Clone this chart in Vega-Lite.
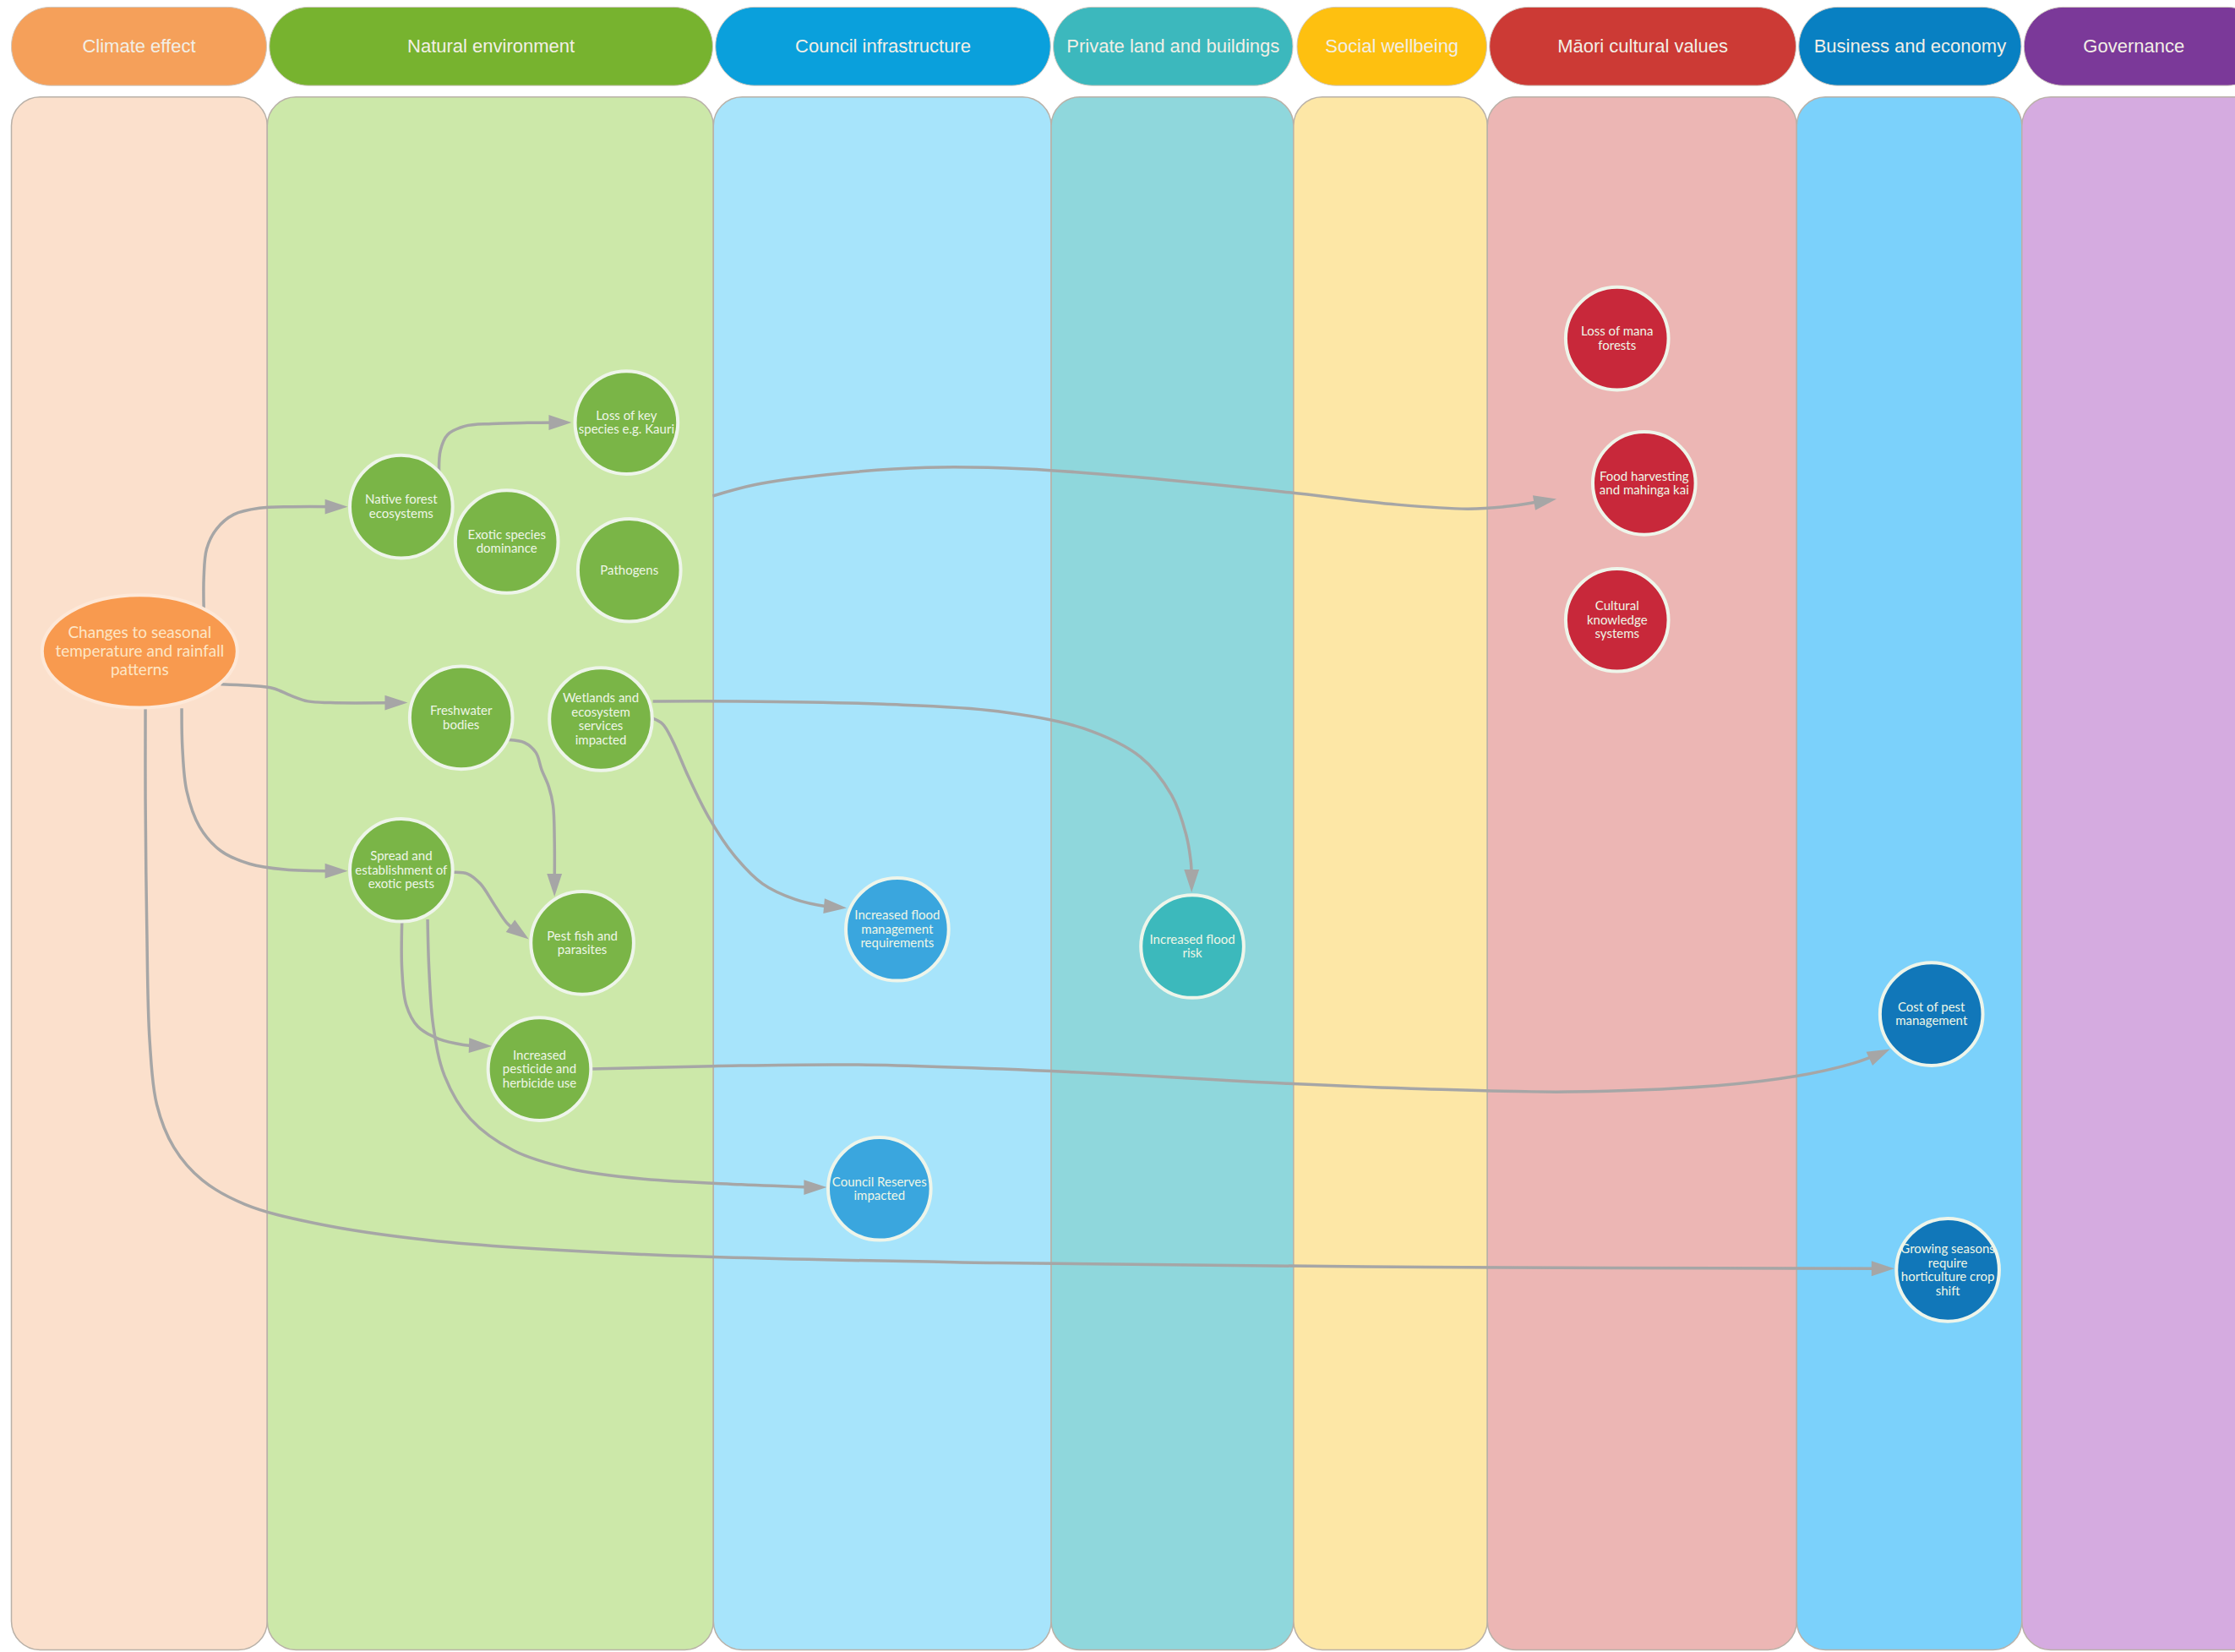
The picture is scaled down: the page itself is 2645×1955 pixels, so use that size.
{
  "$schema": "https://vega.github.io/schema/vega-lite/v6.json",
  "width": 2645,
  "height": 1955,
  "autosize": {"type": "fit", "contains": "padding"},
  "padding": 0,
  "background": "white",
  "config": {"view": {"stroke": null}},
  "datasets": {
    "cols": [
      {"label": "Climate effect", "x0": 8, "x1": 187.5, "hx0": 8, "hx1": 187, "cx": 97.5},
      {"label": "Natural environment", "x0": 187.5, "x1": 500.5, "hx0": 189, "hx1": 500, "cx": 344.5},
      {"label": "Council infrastructure", "x0": 500.5, "x1": 737.5, "hx0": 502, "hx1": 737, "cx": 619.5},
      {"label": "Private land and buildings", "x0": 737.5, "x1": 907.5, "hx0": 739, "hx1": 907, "cx": 823},
      {"label": "Social wellbeing", "x0": 907.5, "x1": 1043.5, "hx0": 910, "hx1": 1043, "cx": 976.5},
      {"label": "Māori cultural values", "x0": 1043.5, "x1": 1260.5, "hx0": 1045, "hx1": 1260, "cx": 1152.5},
      {"label": "Business and economy", "x0": 1260.5, "x1": 1418.5, "hx0": 1262, "hx1": 1418, "cx": 1340},
      {"label": "Governance", "x0": 1418.5, "x1": 1600, "hx0": 1420, "hx1": 1590, "cx": 1497}
    ],
    "nodes": [
      {"t": "Changes to seasonal\ntemperature and rainfall\npatterns", "g": "climate", "x": 98, "y": 457},
      {"t": "Native forest\necosystems", "g": "nat", "x": 281.5, "y": 355.5},
      {"t": "Loss of key\nspecies e.g. Kauri", "g": "nat", "x": 439.5, "y": 296.5},
      {"t": "Exotic species\ndominance", "g": "nat", "x": 355.5, "y": 380},
      {"t": "Pathogens", "g": "nat", "x": 441.5, "y": 400},
      {"t": "Freshwater\nbodies", "g": "nat", "x": 323.5, "y": 503.5},
      {"t": "Wetlands and\necosystem\nservices\nimpacted", "g": "nat", "x": 421.5, "y": 504.5},
      {"t": "Spread and\nestablishment of\nexotic pests", "g": "nat", "x": 281.5, "y": 610.5},
      {"t": "Pest fish and\nparasites", "g": "nat", "x": 408.5, "y": 661.5},
      {"t": "Increased\npesticide and\nherbicide use", "g": "nat", "x": 378.5, "y": 750},
      {"t": "Increased flood\nmanagement\nrequirements", "g": "council", "x": 629.5, "y": 652},
      {"t": "Council Reserves\nimpacted", "g": "council", "x": 617, "y": 834},
      {"t": "Increased flood\nrisk", "g": "private", "x": 836.5, "y": 664},
      {"t": "Loss of mana\nforests", "g": "maori", "x": 1134.5, "y": 237.5},
      {"t": "Food harvesting\nand mahinga kai", "g": "maori", "x": 1153.5, "y": 339},
      {"t": "Cultural\nknowledge\nsystems", "g": "maori", "x": 1134.5, "y": 435},
      {"t": "Cost of pest\nmanagement", "g": "business", "x": 1355, "y": 711.5},
      {"t": "Growing seasons\nrequire\nhorticulture crop\nshift", "g": "business", "x": 1366.5, "y": 891}
    ],
    "edges": [
      {"e": 1, "i": 0, "x": 143, "y": 428}, {"e": 1, "i": 1, "x": 143, "y": 405}, {"e": 1, "i": 2, "x": 145, "y": 385}, {"e": 1, "i": 3, "x": 152, "y": 371}, {"e": 1, "i": 4, "x": 164, "y": 361}, {"e": 1, "i": 5, "x": 182, "y": 356.5}, {"e": 1, "i": 6, "x": 205, "y": 355.5}, {"e": 1, "i": 7, "x": 236, "y": 355.5},
      {"e": 2, "i": 0, "x": 308, "y": 331}, {"e": 2, "i": 1, "x": 309, "y": 316}, {"e": 2, "i": 2, "x": 314, "y": 305}, {"e": 2, "i": 3, "x": 326, "y": 299}, {"e": 2, "i": 4, "x": 345, "y": 297.3}, {"e": 2, "i": 5, "x": 370, "y": 296.6}, {"e": 2, "i": 6, "x": 392, "y": 296.4},
      {"e": 3, "i": 0, "x": 155, "y": 480}, {"e": 3, "i": 1, "x": 175, "y": 481}, {"e": 3, "i": 2, "x": 192, "y": 483}, {"e": 3, "i": 3, "x": 204, "y": 488}, {"e": 3, "i": 4, "x": 216, "y": 492}, {"e": 3, "i": 5, "x": 232, "y": 493}, {"e": 3, "i": 6, "x": 278, "y": 493},
      {"e": 4, "i": 0, "x": 127.5, "y": 497}, {"e": 4, "i": 1, "x": 128, "y": 525}, {"e": 4, "i": 2, "x": 131, "y": 555}, {"e": 4, "i": 3, "x": 140, "y": 580}, {"e": 4, "i": 4, "x": 155, "y": 597}, {"e": 4, "i": 5, "x": 175, "y": 606}, {"e": 4, "i": 6, "x": 200, "y": 610}, {"e": 4, "i": 7, "x": 236, "y": 611},
      {"e": 5, "i": 0, "x": 102, "y": 497}, {"e": 5, "i": 1, "x": 102, "y": 560}, {"e": 5, "i": 2, "x": 103, "y": 650}, {"e": 5, "i": 3, "x": 105, "y": 730}, {"e": 5, "i": 4, "x": 110, "y": 775}, {"e": 5, "i": 5, "x": 122, "y": 805}, {"e": 5, "i": 6, "x": 142, "y": 828}, {"e": 5, "i": 7, "x": 172, "y": 845}, {"e": 5, "i": 8, "x": 220, "y": 858}, {"e": 5, "i": 9, "x": 300, "y": 870}, {"e": 5, "i": 10, "x": 450, "y": 880}, {"e": 5, "i": 11, "x": 700, "y": 886}, {"e": 5, "i": 12, "x": 1000, "y": 889}, {"e": 5, "i": 13, "x": 1321, "y": 890},
      {"e": 6, "i": 0, "x": 357, "y": 519}, {"e": 6, "i": 1, "x": 368, "y": 521}, {"e": 6, "i": 2, "x": 376, "y": 528}, {"e": 6, "i": 3, "x": 380, "y": 540}, {"e": 6, "i": 4, "x": 385, "y": 552}, {"e": 6, "i": 5, "x": 388, "y": 565}, {"e": 6, "i": 6, "x": 389, "y": 590}, {"e": 6, "i": 7, "x": 389, "y": 621},
      {"e": 7, "i": 0, "x": 458, "y": 492}, {"e": 7, "i": 1, "x": 520, "y": 492}, {"e": 7, "i": 2, "x": 620, "y": 494}, {"e": 7, "i": 3, "x": 700, "y": 499}, {"e": 7, "i": 4, "x": 760, "y": 511}, {"e": 7, "i": 5, "x": 800, "y": 531}, {"e": 7, "i": 6, "x": 822, "y": 558}, {"e": 7, "i": 7, "x": 832, "y": 585}, {"e": 7, "i": 8, "x": 835.5, "y": 605}, {"e": 7, "i": 9, "x": 836, "y": 618},
      {"e": 8, "i": 0, "x": 458, "y": 504}, {"e": 8, "i": 1, "x": 465, "y": 508}, {"e": 8, "i": 2, "x": 472, "y": 520}, {"e": 8, "i": 3, "x": 483, "y": 545}, {"e": 8, "i": 4, "x": 497, "y": 573}, {"e": 8, "i": 5, "x": 515, "y": 600}, {"e": 8, "i": 6, "x": 535, "y": 620}, {"e": 8, "i": 7, "x": 558, "y": 631}, {"e": 8, "i": 8, "x": 580, "y": 636}, {"e": 8, "i": 9, "x": 587, "y": 636.5},
      {"e": 9, "i": 0, "x": 318, "y": 612}, {"e": 9, "i": 1, "x": 328, "y": 613}, {"e": 9, "i": 2, "x": 337, "y": 620}, {"e": 9, "i": 3, "x": 347, "y": 635}, {"e": 9, "i": 4, "x": 356, "y": 648}, {"e": 9, "i": 5, "x": 365, "y": 655},
      {"e": 10, "i": 0, "x": 282, "y": 647}, {"e": 10, "i": 1, "x": 282, "y": 680}, {"e": 10, "i": 2, "x": 285, "y": 705}, {"e": 10, "i": 3, "x": 293, "y": 720}, {"e": 10, "i": 4, "x": 308, "y": 729}, {"e": 10, "i": 5, "x": 325, "y": 733}, {"e": 10, "i": 6, "x": 338, "y": 734},
      {"e": 11, "i": 0, "x": 300, "y": 645}, {"e": 11, "i": 1, "x": 301, "y": 680}, {"e": 11, "i": 2, "x": 304, "y": 720}, {"e": 11, "i": 3, "x": 312, "y": 755}, {"e": 11, "i": 4, "x": 330, "y": 785}, {"e": 11, "i": 5, "x": 360, "y": 807}, {"e": 11, "i": 6, "x": 400, "y": 820}, {"e": 11, "i": 7, "x": 450, "y": 827}, {"e": 11, "i": 8, "x": 520, "y": 831}, {"e": 11, "i": 9, "x": 572, "y": 833},
      {"e": 12, "i": 0, "x": 415, "y": 750}, {"e": 12, "i": 1, "x": 500, "y": 748}, {"e": 12, "i": 2, "x": 600, "y": 747}, {"e": 12, "i": 3, "x": 750, "y": 752}, {"e": 12, "i": 4, "x": 900, "y": 760}, {"e": 12, "i": 5, "x": 1000, "y": 764}, {"e": 12, "i": 6, "x": 1100, "y": 766}, {"e": 12, "i": 7, "x": 1200, "y": 762}, {"e": 12, "i": 8, "x": 1260, "y": 755}, {"e": 12, "i": 9, "x": 1300, "y": 746}, {"e": 12, "i": 10, "x": 1319, "y": 739},
      {"e": 13, "i": 0, "x": 500, "y": 348}, {"e": 13, "i": 1, "x": 530, "y": 340}, {"e": 13, "i": 2, "x": 580, "y": 333}, {"e": 13, "i": 3, "x": 650, "y": 328}, {"e": 13, "i": 4, "x": 720, "y": 329}, {"e": 13, "i": 5, "x": 800, "y": 335}, {"e": 13, "i": 6, "x": 900, "y": 345}, {"e": 13, "i": 7, "x": 980, "y": 354}, {"e": 13, "i": 8, "x": 1030, "y": 357}, {"e": 13, "i": 9, "x": 1060, "y": 355}, {"e": 13, "i": 10, "x": 1085, "y": 351}
    ],
    "arrows": [
      {"x": 244, "y": 355.5, "dir": 90},
      {"x": 401, "y": 296.4, "dir": 90},
      {"x": 286, "y": 493, "dir": 90},
      {"x": 244, "y": 611, "dir": 90},
      {"x": 1329, "y": 890, "dir": 90},
      {"x": 389, "y": 629, "dir": 180},
      {"x": 836, "y": 626, "dir": 180},
      {"x": 594, "y": 637, "dir": 95},
      {"x": 371, "y": 659, "dir": 126},
      {"x": 345, "y": 734, "dir": 92},
      {"x": 580, "y": 833, "dir": 90},
      {"x": 1326, "y": 736, "dir": 65},
      {"x": 1092, "y": 350, "dir": 80}
    ]
  },
  "layer": [
    {
      "data": {"name": "cols"},
      "mark": {"type": "rect", "cornerRadius": 34, "stroke": "#b9b1a8", "strokeWidth": 1.5, "clip": true},
      "encoding": {
        "x": {"field": "x0", "type": "quantitative", "scale": {"domain": [0, 1568], "nice": false, "zero": false}, "axis": null},
        "x2": {"field": "x1"},
        "y": {"datum": 68, "type": "quantitative", "scale": {"domain": [0, 1159], "nice": false, "zero": false, "reverse": true}, "axis": null},
        "y2": {"datum": 1157.5},
        "fill": {"field": "label", "type": "nominal", "legend": null,
          "scale": {"domain": ["Climate effect", "Natural environment", "Council infrastructure", "Private land and buildings", "Social wellbeing", "Māori cultural values", "Business and economy", "Governance"],
                    "range": ["#fbe0cc", "#cce8a9", "#a7e4fb", "#8fd7dc", "#fde7a6", "#ecb6b4", "#7bd1fb", "#d5abe0"]}}
      }
    },
    {
      "data": {"name": "cols"},
      "mark": {"type": "rect", "cornerRadius": 46, "stroke": "#cfc8c0", "strokeWidth": 1, "clip": true},
      "encoding": {
        "x": {"field": "hx0", "type": "quantitative", "scale": {"domain": [0, 1568], "nice": false, "zero": false}, "axis": null},
        "x2": {"field": "hx1"},
        "y": {"datum": 5, "type": "quantitative", "scale": {"domain": [0, 1159], "nice": false, "zero": false, "reverse": true}, "axis": null},
        "y2": {"datum": 60},
        "fill": {"field": "label", "type": "nominal", "legend": null,
          "scale": {"domain": ["Climate effect", "Natural environment", "Council infrastructure", "Private land and buildings", "Social wellbeing", "Māori cultural values", "Business and economy", "Governance"],
                    "range": ["#f5a05a", "#77b32f", "#0aa0dc", "#3cb8bd", "#fec010", "#cc3a35", "#0880c2", "#7b3999"]}}
      }
    },
    {
      "data": {"name": "cols"},
      "mark": {"type": "text", "font": "Liberation Sans, Arial, sans-serif", "fontSize": 22, "color": "#f2efe6", "align": "center", "baseline": "middle"},
      "encoding": {
        "x": {"field": "cx", "type": "quantitative", "scale": {"domain": [0, 1568], "nice": false, "zero": false}, "axis": null},
        "y": {"datum": 32.5, "type": "quantitative", "scale": {"domain": [0, 1159], "nice": false, "zero": false, "reverse": true}, "axis": null},
        "text": {"field": "label"}
      }
    },
    {
      "data": {"name": "edges"},
      "mark": {"type": "line", "interpolate": "catmull-rom", "color": "#a6a6a6", "strokeWidth": 3.5, "strokeCap": "butt"},
      "encoding": {
        "x": {"field": "x", "type": "quantitative", "scale": {"domain": [0, 1568], "nice": false, "zero": false}, "axis": null},
        "y": {"field": "y", "type": "quantitative", "scale": {"domain": [0, 1159], "nice": false, "zero": false, "reverse": true}, "axis": null},
        "detail": {"field": "e", "type": "nominal"},
        "order": {"field": "i", "type": "quantitative"}
      }
    },
    {
      "data": {"name": "arrows"},
      "mark": {"type": "point", "shape": "M0,0L0.66,2L-0.66,2Z", "size": 729, "filled": true, "color": "#a6a6a6", "opacity": 1, "strokeWidth": 0},
      "encoding": {
        "x": {"field": "x", "type": "quantitative", "scale": {"domain": [0, 1568], "nice": false, "zero": false}, "axis": null},
        "y": {"field": "y", "type": "quantitative", "scale": {"domain": [0, 1159], "nice": false, "zero": false, "reverse": true}, "axis": null},
        "angle": {"field": "dir", "type": "quantitative", "scale": {"domain": [0, 360], "range": [0, 360]}}
      }
    },
    {
      "data": {"name": "nodes"},
      "transform": [{"filter": "datum.g === 'climate'"}],
      "mark": {"type": "point", "shape": "M-1,0A1,0.576 0 1,1 1,0A1,0.576 0 1,1 -1,0Z", "size": 53361, "filled": true, "fill": "#f89a4f", "stroke": "#fde8d8", "strokeWidth": 4, "opacity": 1},
      "encoding": {
        "x": {"field": "x", "type": "quantitative", "scale": {"domain": [0, 1568], "nice": false, "zero": false}, "axis": null},
        "y": {"field": "y", "type": "quantitative", "scale": {"domain": [0, 1159], "nice": false, "zero": false, "reverse": true}, "axis": null}
      }
    },
    {
      "data": {"name": "nodes"},
      "transform": [{"filter": "datum.g !== 'climate'"}],
      "mark": {"type": "point", "shape": "circle", "size": 14800, "filled": true, "stroke": "#eef5ea", "strokeWidth": 4, "opacity": 1},
      "encoding": {
        "x": {"field": "x", "type": "quantitative", "scale": {"domain": [0, 1568], "nice": false, "zero": false}, "axis": null},
        "y": {"field": "y", "type": "quantitative", "scale": {"domain": [0, 1159], "nice": false, "zero": false, "reverse": true}, "axis": null},
        "fill": {"field": "g", "type": "nominal", "legend": null,
          "scale": {"domain": ["nat", "council", "private", "maori", "business"], "range": ["#7ab547", "#3aa6de", "#3cb9bc", "#c8283a", "#1177b9"]}}
      }
    },
    {
      "data": {"name": "nodes"},
      "transform": [{"filter": "datum.g !== 'climate' && length(split(datum.t, '\\n')) === 1"}],
      "mark": {"type": "text", "font": "Lato", "fontSize": 15, "lineHeight": 16.5, "lineBreak": "\n", "color": "#eef6e6", "align": "center", "baseline": "middle", "dy": 0},
      "encoding": {
        "x": {"field": "x", "type": "quantitative", "scale": {"domain": [0, 1568], "nice": false, "zero": false}, "axis": null},
        "y": {"field": "y", "type": "quantitative", "scale": {"domain": [0, 1159], "nice": false, "zero": false, "reverse": true}, "axis": null},
        "text": {"field": "t"}
      }
    },
    {
      "data": {"name": "nodes"},
      "transform": [{"filter": "datum.g !== 'climate' && length(split(datum.t, '\\n')) === 2"}],
      "mark": {"type": "text", "font": "Lato", "fontSize": 15, "lineHeight": 16.5, "lineBreak": "\n", "color": "#eef6e6", "align": "center", "baseline": "middle", "dy": -8.25},
      "encoding": {
        "x": {"field": "x", "type": "quantitative", "scale": {"domain": [0, 1568], "nice": false, "zero": false}, "axis": null},
        "y": {"field": "y", "type": "quantitative", "scale": {"domain": [0, 1159], "nice": false, "zero": false, "reverse": true}, "axis": null},
        "text": {"field": "t"}
      }
    },
    {
      "data": {"name": "nodes"},
      "transform": [{"filter": "datum.g !== 'climate' && length(split(datum.t, '\\n')) === 3"}],
      "mark": {"type": "text", "font": "Lato", "fontSize": 15, "lineHeight": 16.5, "lineBreak": "\n", "color": "#eef6e6", "align": "center", "baseline": "middle", "dy": -16.5},
      "encoding": {
        "x": {"field": "x", "type": "quantitative", "scale": {"domain": [0, 1568], "nice": false, "zero": false}, "axis": null},
        "y": {"field": "y", "type": "quantitative", "scale": {"domain": [0, 1159], "nice": false, "zero": false, "reverse": true}, "axis": null},
        "text": {"field": "t"}
      }
    },
    {
      "data": {"name": "nodes"},
      "transform": [{"filter": "datum.g !== 'climate' && length(split(datum.t, '\\n')) === 4"}],
      "mark": {"type": "text", "font": "Lato", "fontSize": 15, "lineHeight": 16.5, "lineBreak": "\n", "color": "#eef6e6", "align": "center", "baseline": "middle", "dy": -24.75},
      "encoding": {
        "x": {"field": "x", "type": "quantitative", "scale": {"domain": [0, 1568], "nice": false, "zero": false}, "axis": null},
        "y": {"field": "y", "type": "quantitative", "scale": {"domain": [0, 1159], "nice": false, "zero": false, "reverse": true}, "axis": null},
        "text": {"field": "t"}
      }
    },
    {
      "data": {"name": "nodes"},
      "transform": [{"filter": "datum.g === 'climate'"}],
      "mark": {"type": "text", "font": "Lato", "fontSize": 19, "lineHeight": 22, "lineBreak": "\n", "color": "#fde6c6", "align": "center", "baseline": "middle", "dy": -22},
      "encoding": {
        "x": {"field": "x", "type": "quantitative", "scale": {"domain": [0, 1568], "nice": false, "zero": false}, "axis": null},
        "y": {"field": "y", "type": "quantitative", "scale": {"domain": [0, 1159], "nice": false, "zero": false, "reverse": true}, "axis": null},
        "text": {"field": "t"}
      }
    }
  ],
  "resolve": {"scale": {"fill": "independent"}}
}
